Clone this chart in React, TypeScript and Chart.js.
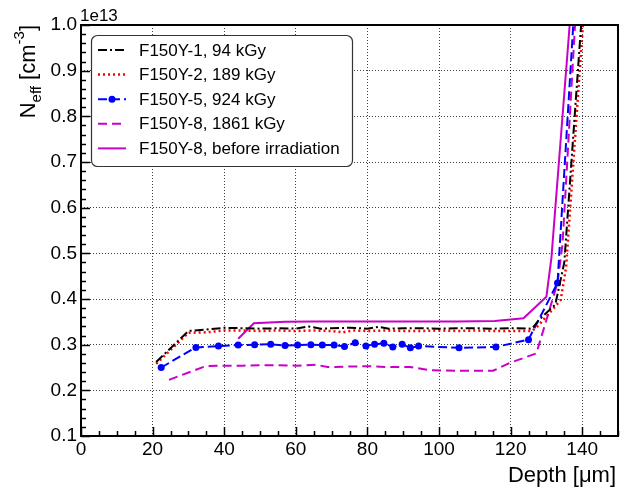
import React, { useEffect, useRef } from 'react';
import { Chart, registerables } from 'chart.js';

Chart.register(...registerables);

// ---- data (depth in µm, Neff in units of 1e13 cm^-3) ----
const depth94 = [21, 30, 35, 40, 45, 50, 55, 60, 63.5, 67, 70, 75, 80, 83, 86, 90, 95, 100, 105, 110, 115, 120, 126, 128, 132.5, 135, 139.7, 140.3];
const neff94 = [0.262, 0.330, 0.333, 0.337, 0.336, 0.335, 0.336, 0.335, 0.340, 0.335, 0.336, 0.337, 0.335, 0.339, 0.335, 0.336, 0.336, 0.335, 0.336, 0.336, 0.335, 0.336, 0.335, 0.355, 0.388, 0.48, 1.0, 1.1];

const depth189 = [21, 30, 35, 40, 45, 50, 55, 60, 65, 70, 73, 76, 80, 85, 90, 95, 100, 105, 110, 115, 120, 126, 127.5, 130.5, 134, 135.5, 140.2, 140.8];
const neff189 = [0.258, 0.326, 0.327, 0.331, 0.331, 0.330, 0.331, 0.330, 0.331, 0.330, 0.327, 0.331, 0.330, 0.331, 0.330, 0.330, 0.331, 0.330, 0.331, 0.330, 0.330, 0.330, 0.340, 0.366, 0.398, 0.47, 1.0, 1.1];

const depth924 = [22.4, 32.1, 38.4, 43.9, 48.5, 53, 57, 60.5, 64.2, 67.4, 70.7, 73.6, 76.6, 79.6, 82, 84.6, 87.1, 89.7, 92, 94.3, 105.6, 115.9, 125, 133.1, 137.5, 138];
const neff924 = [0.250, 0.294, 0.297, 0.299, 0.300, 0.301, 0.298, 0.299, 0.300, 0.299, 0.299, 0.296, 0.304, 0.297, 0.301, 0.303, 0.295, 0.301, 0.293, 0.297, 0.293, 0.295, 0.311, 0.435, 1.0, 1.1];

const depth1861 = [24.6, 34.8, 40, 45, 50, 55, 60, 65.7, 68.9, 75, 80, 85, 92, 97.6, 105, 115.1, 119.8, 127.2, 130.3, 133.1, 134.5, 138, 138.5];
const neff1861 = [0.223, 0.253, 0.254, 0.254, 0.255, 0.255, 0.254, 0.256, 0.251, 0.252, 0.253, 0.251, 0.251, 0.244, 0.243, 0.243, 0.26, 0.281, 0.362, 0.435, 0.52, 1.0, 1.1];

const depthPre = [43.9, 48.3, 57, 65, 75, 85, 95, 105, 115.6, 120, 123.6, 130, 131.4, 136.5, 137];
const neffPre = [0.313, 0.347, 0.350, 0.351, 0.351, 0.351, 0.351, 0.351, 0.352, 0.355, 0.358, 0.405, 0.49, 1.0, 1.1];

const seriesLabels = [
  'F150Y-1, 94 kGy',
  'F150Y-2, 189 kGy',
  'F150Y-5, 924 kGy',
  'F150Y-8, 1861 kGy',
  'F150Y-8, before irradiation',
];

const xMajorTicks = [0, 20, 40, 60, 80, 100, 120, 140];
const yMajorTicks = [0.1, 0.2, 0.3, 0.4, 0.5, 0.6, 0.7, 0.8, 0.9, 1.0];
const xTitle = 'Depth [μm]';
const yExponent = '1e13';

const FONT = '"Liberation Sans", Arial, Helvetica, sans-serif';
const MAGENTA = '#c800c8';

const toPts = (xs: number[], ys: number[]) => xs.map((x, i) => ({ x, y: ys[i] }));

const decorPlugin = {
  id: 'decor',
  afterDraw(chart: any) {
    const ctx: CanvasRenderingContext2D = chart.ctx;
    const { left, right, top, bottom } = chart.chartArea;
    const xs = chart.scales.x;
    const ys = chart.scales.y;
    ctx.save();

    // inward tick marks
    ctx.strokeStyle = '#000';
    ctx.lineWidth = 1.5;
    ctx.beginPath();
    for (let v = 0; v <= 150; v += 5) {
      const px = Math.round(xs.getPixelForValue(v)) + 0.5;
      const len = xMajorTicks.includes(v) ? 9 : 5;
      ctx.moveTo(px, bottom);
      ctx.lineTo(px, bottom - len);
    }
    for (let i = 5; i <= 50; i++) {
      const v = i / 50;
      const py = Math.round(ys.getPixelForValue(v)) + 0.5;
      const len = i % 5 === 0 ? 9 : 5;
      ctx.moveTo(left, py);
      ctx.lineTo(left + len, py);
    }
    ctx.stroke();

    // frame
    ctx.lineWidth = 2;
    ctx.strokeRect(left, top, right - left, bottom - top);

    // exponent label
    ctx.fillStyle = '#000';
    ctx.font = `17px ${FONT}`;
    ctx.textAlign = 'left';
    ctx.textBaseline = 'alphabetic';
    ctx.fillText(yExponent, left - 1, top - 4);

    // x title
    ctx.font = `22px ${FONT}`;
    ctx.textAlign = 'right';
    ctx.fillText(xTitle, right - 2, 482);

    // y title with sub/superscripts
    const segs = [
      { t: 'N', s: 22, dy: 0 },
      { t: 'eff', s: 15, dy: 6 },
      { t: ' [cm', s: 22, dy: 0 },
      { t: '-3', s: 15, dy: -11 },
      { t: ']', s: 22, dy: 0 },
    ];
    let total = 0;
    const widths = segs.map((sg) => {
      ctx.font = `${sg.s}px ${FONT}`;
      const w = ctx.measureText(sg.t).width;
      total += w;
      return w;
    });
    ctx.translate(35, top);
    ctx.rotate(-Math.PI / 2);
    ctx.textAlign = 'left';
    let cx = -total;
    segs.forEach((sg, i) => {
      ctx.font = `${sg.s}px ${FONT}`;
      ctx.fillText(sg.t, cx, sg.dy);
      cx += widths[i];
    });
    ctx.setTransform(1, 0, 0, 1, 0, 0);

    // legend
    const lx = 91, ly = 35, lw = 261, lh = 131;
    ctx.beginPath();
    (ctx as any).roundRect(lx + 0.5, ly + 0.5, lw, lh, 6);
    ctx.fillStyle = '#fff';
    ctx.fill();
    ctx.strokeStyle = '#333';
    ctx.lineWidth = 1.2;
    ctx.stroke();
    chart.data.datasets.forEach((ds: any, i: number) => {
      const y = 50 + i * 24.6;
      ctx.save();
      ctx.strokeStyle = ds.borderColor;
      ctx.lineWidth = ds.borderWidth;
      ctx.setLineDash(ds.borderDash || []);
      ctx.beginPath();
      ctx.moveTo(98, y);
      ctx.lineTo(126, y);
      ctx.stroke();
      ctx.restore();
      if (ds.legendMarker) {
        ctx.fillStyle = ds.borderColor;
        ctx.beginPath();
        ctx.arc(112, y, 3.5, 0, Math.PI * 2);
        ctx.fill();
      }
      ctx.fillStyle = '#000';
      ctx.font = `17px ${FONT}`;
      ctx.textAlign = 'left';
      ctx.textBaseline = 'middle';
      ctx.fillText(ds.label, 139, y + 1);
    });
    ctx.restore();
  },
};

export default function App() {
  const ref = useRef<HTMLCanvasElement>(null);
  useEffect(() => {
    const W = 622, H = 488;
    const L = 81, R = 621, T = 25, B = 436;
    const canvas = ref.current!;
    const chart = new Chart(canvas, {
      type: 'line',
      data: {
        datasets: [
          {
            label: seriesLabels[0],
            data: toPts(depth94, neff94),
            borderColor: '#000000',
            backgroundColor: '#000000',
            borderWidth: 2,
            borderDash: [9, 3, 2, 3],
            pointRadius: 0,
          },
          {
            label: seriesLabels[1],
            data: toPts(depth189, neff189),
            borderColor: '#ff0000',
            backgroundColor: '#ff0000',
            borderWidth: 2.5,
            borderDash: [2, 3],
            pointRadius: 0,
          },
          {
            label: seriesLabels[2],
            data: toPts(depth924, neff924),
            borderColor: '#0000ff',
            backgroundColor: '#0000ff',
            borderWidth: 2,
            borderDash: [9, 4],
            pointRadius: (c: any) => (c.raw && c.raw.y > 0.5 ? 0 : 3.5),
            pointBorderWidth: 0,
            legendMarker: true,
          } as any,
          {
            label: seriesLabels[3],
            data: toPts(depth1861, neff1861),
            borderColor: MAGENTA,
            backgroundColor: MAGENTA,
            borderWidth: 2,
            borderDash: [9, 5],
            pointRadius: 0,
          },
          {
            label: seriesLabels[4],
            data: toPts(depthPre, neffPre),
            borderColor: MAGENTA,
            backgroundColor: MAGENTA,
            borderWidth: 2,
            pointRadius: 0,
          },
        ],
      },
      options: {
        responsive: false,
        animation: false,
        events: [],
        layout: { padding: { top: T, right: W - R, left: 0, bottom: 0 } },
        plugins: {
          legend: { display: false },
          tooltip: { enabled: false },
        },
        scales: {
          x: {
            type: 'linear',
            min: 0,
            max: 150,
            afterFit: (s: any) => { s.height = H - B; },
            afterBuildTicks: (s: any) => { s.ticks = xMajorTicks.map((v) => ({ value: v })); },
            ticks: {
              color: '#000',
              font: { family: FONT, size: 19 },
              padding: 2,
              maxRotation: 0,
              autoSkip: false,
              callback: (v: any) => String(v),
            },
            grid: { color: 'rgba(0,0,0,0.75)', lineWidth: 1, drawTicks: false },
            border: { display: false, dash: [1, 2] },
          },
          y: {
            type: 'linear',
            min: 0.1,
            max: 1.0,
            afterFit: (s: any) => { s.width = L; },
            afterBuildTicks: (s: any) => { s.ticks = yMajorTicks.map((v) => ({ value: v })); },
            ticks: {
              color: '#000',
              font: { family: FONT, size: 19 },
              padding: 4,
              autoSkip: false,
              callback: (v: any) => Number(v).toFixed(1),
            },
            grid: { color: 'rgba(0,0,0,0.75)', lineWidth: 1, drawTicks: false },
            border: { display: false, dash: [1, 2] },
          },
        },
      } as any,
      plugins: [decorPlugin],
    });
    return () => chart.destroy();
  }, []);
  return (
    <div style={{ position: 'fixed', left: 0, top: 0, width: 622, height: 488, background: '#fff' }}>
      <canvas ref={ref} width={622} height={488} style={{ width: 622, height: 488, display: 'block' }} />
    </div>
  );
}
